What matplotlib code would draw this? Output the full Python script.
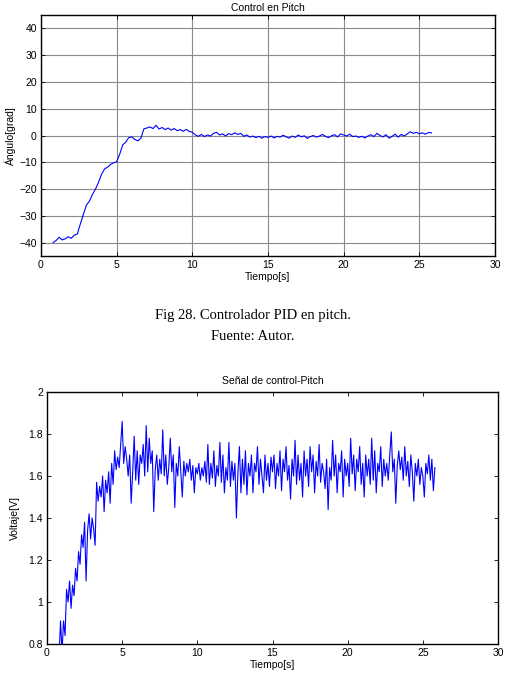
import numpy as np
from matplotlib import pyplot as plt
from matplotlib.ticker import FormatStrFormatter, FuncFormatter

plt.rcParams['font.family'] = ['Liberation Sans', 'DejaVu Sans']
plt.rcParams['font.size'] = 7

# data ===============================================
t0_angle = 0.8
dt_angle = 0.2
angle = [
    -40.0, -39.2, -38.0, -39.0, -38.6, -37.8, -38.4, -37.2, -36.8, -33.0,
    -29.5, -26.0, -24.5, -22.0, -20.0, -17.5, -14.5, -12.5, -11.8, -10.8,
    -10.2, -9.8, -7.0, -3.5, -2.5, -0.8, -0.5, -1.5, -2.0, -1.0,
    2.5, 2.8, 3.2, 2.6, 3.8, 2.4, 3.0, 2.2, 2.8, 2.0,
    2.6, 1.8, 2.2, 1.6, 2.3, 1.5, 1.2, 0.2, -0.3, 0.4,
    -0.4, 0.2, -0.2, 0.8, 1.2, 0.2, 0.6, -0.2, 0.7, 0.3,
    1.0, 0.4, 0.8, -0.3, 0.2, -0.6, -0.2, -0.8, -0.3, -1.0,
    -0.4, -0.7, -0.2, -0.9, -0.3, -0.6, 0.1, -0.5, -1.0, -0.2,
    -0.7, 0.2, -0.5, -0.1, -1.1, -0.4, 0.0, -0.6, -0.2, 0.4,
    -0.3, -0.8, -0.1, 0.3, -0.5, 0.6, 0.2, -0.2, 0.5, -0.4,
    -0.2, -0.7, -0.3, -0.9, -0.2, 0.3, -0.4, 0.8, 0.0, -0.5,
    0.3, -1.0, -0.3, 0.5, -0.6, 0.4, -0.2, 0.6, 1.4, 0.8,
    1.2, 0.6, 1.0, 0.5, 1.1, 1.0,
]

t0_volt = 0.8
dt_volt = 0.1
voltage = [
    0.74, 0.91, 0.76, 0.91, 0.84, 1.06, 1.00, 1.10, 0.97, 1.08,
    1.03, 1.16, 1.10, 1.24, 1.18, 1.32, 1.26, 1.38, 1.10, 1.34,
    1.42, 1.30, 1.40, 1.35, 1.27, 1.57, 1.48, 1.55, 1.50, 1.60,
    1.43, 1.58, 1.52, 1.62, 1.47, 1.66, 1.56, 1.72, 1.63, 1.69,
    1.64, 1.75, 1.86, 1.66, 1.74, 1.68, 1.60, 1.70, 1.47, 1.62,
    1.79, 1.58, 1.72, 1.56, 1.70, 1.66, 1.75, 1.60, 1.84, 1.62,
    1.78, 1.66, 1.72, 1.43, 1.63, 1.70, 1.58, 1.68, 1.61, 1.82,
    1.60, 1.70, 1.56, 1.64, 1.78, 1.62, 1.70, 1.45, 1.66, 1.60,
    1.74, 1.62, 1.50, 1.67, 1.60, 1.66, 1.62, 1.68, 1.58, 1.65,
    1.52, 1.64, 1.61, 1.66, 1.58, 1.64, 1.60, 1.67, 1.57, 1.75,
    1.56, 1.66, 1.59, 1.72, 1.55, 1.65, 1.60, 1.76, 1.57, 1.70,
    1.52, 1.64, 1.58, 1.76, 1.55, 1.67, 1.58, 1.66, 1.40, 1.62,
    1.74, 1.52, 1.68, 1.56, 1.72, 1.51, 1.66, 1.60, 1.70, 1.52,
    1.66, 1.62, 1.74, 1.56, 1.68, 1.60, 1.52, 1.70, 1.58, 1.66,
    1.55, 1.69, 1.62, 1.70, 1.54, 1.66, 1.60, 1.72, 1.53, 1.68,
    1.62, 1.74, 1.58, 1.65, 1.49, 1.68, 1.60, 1.77, 1.56, 1.70,
    1.58, 1.66, 1.50, 1.72, 1.60, 1.68, 1.55, 1.74, 1.62, 1.70,
    1.52, 1.67, 1.60, 1.75, 1.57, 1.66, 1.62, 1.54, 1.68, 1.44,
    1.64, 1.58, 1.77, 1.60, 1.70, 1.52, 1.66, 1.62, 1.72, 1.50,
    1.68, 1.60, 1.66, 1.55, 1.78, 1.61, 1.70, 1.53, 1.68, 1.62,
    1.74, 1.56, 1.66, 1.50, 1.70, 1.60, 1.68, 1.56, 1.78, 1.58,
    1.72, 1.52, 1.66, 1.62, 1.74, 1.55, 1.68, 1.60, 1.66, 1.58,
    1.70, 1.81, 1.62, 1.68, 1.47, 1.65, 1.72, 1.63, 1.69, 1.58,
    1.74, 1.60, 1.67, 1.55, 1.70, 1.62, 1.48, 1.66, 1.60, 1.68,
    1.56, 1.64, 1.60, 1.50, 1.66, 1.61, 1.70, 1.58, 1.68, 1.53,
    1.64,
]

x_ticks = [0, 5, 10, 15, 20, 25, 30]
angle_ticks = [-40, -30, -20, -10, 0, 10, 20, 30, 40]
volt_ticks = [0.8, 1.0, 1.2, 1.4, 1.6, 1.8, 2.0]
caption = ['Fig 28. Controlador PID en pitch.', 'Fuente: Autor.']
# ====================================================

t_angle = t0_angle + dt_angle * np.arange(len(angle))
t_volt = t0_volt + dt_volt * np.arange(len(voltage))

W, H = 510, 689
fig = plt.figure(figsize=(W / 100, H / 100), dpi=100)


def matlab_axes(ax):
    ax.tick_params(direction='in', top=True, right=True, length=3, width=0.6,
                   pad=3, labelsize=7.5)
    for s in ax.spines.values():
        s.set_linewidth(1.0)


# top plot: angle
ax1 = fig.add_axes([41 / W, 1 - 256 / H, 454 / W, 241 / H])
ax1.plot(t_angle, angle, color='#0000ff', lw=0.8)
ax1.set_xlim(0, 30)
ax1.set_ylim(-45, 45)
ax1.set_xticks(x_ticks)
ax1.set_yticks(angle_ticks)
ax1.grid(True, color='#8a8a8a', lw=0.8)
ax1.set_axisbelow(True)
matlab_axes(ax1)
ax1.set_title('Control en Pitch', fontsize=7.5, pad=3)
ax1.set_xlabel('Tiempo[s]', fontsize=7.5, labelpad=1)
ax1.set_ylabel('Ángulo[grad]', fontsize=7.5, labelpad=2)

# caption between plots
fig.text(253 / W, 1 - 315 / H, caption[0], ha='center', va='center',
         family='Liberation Serif', fontsize=10.5)
fig.text(253 / W, 1 - 336 / H, caption[1], ha='center', va='center',
         family='Liberation Serif', fontsize=10.5)

# bottom plot: control voltage
ax2 = fig.add_axes([47 / W, 1 - 644 / H, 451 / W, 252 / H])
ax2.plot(t_volt, voltage, color='#0000ff', lw=0.8)
ax2.set_xlim(0, 30)
ax2.set_ylim(0.8, 2.0)
ax2.set_xticks(x_ticks)
ax2.set_yticks(volt_ticks)
ax2.yaxis.set_major_formatter(FuncFormatter(lambda v, p: f'{v:g}'))
matlab_axes(ax2)
ax2.set_title('Señal de control-Pitch', fontsize=7.5, pad=6)
ax2.set_xlabel('Tiempo[s]', fontsize=7.5, labelpad=1)
ax2.set_ylabel('Voltaje[V]', fontsize=7.5, labelpad=6)

fig.savefig('out.png', dpi=100)
